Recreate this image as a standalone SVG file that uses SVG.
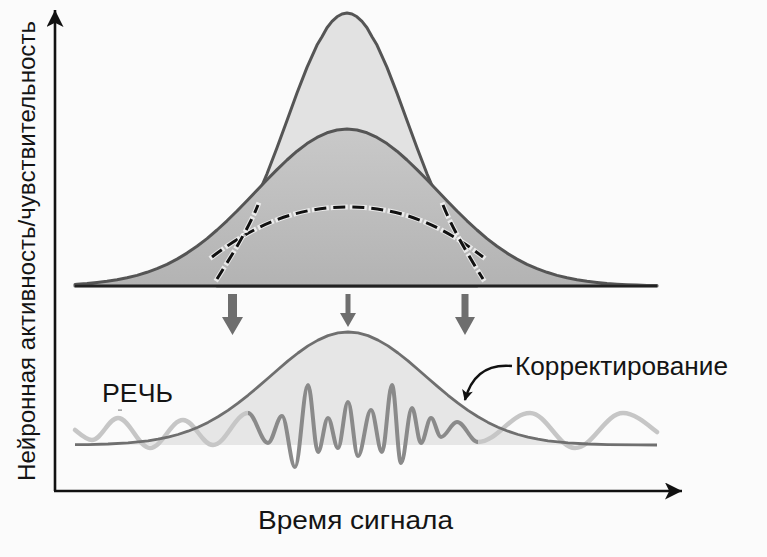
<svg xmlns="http://www.w3.org/2000/svg" width="767" height="557" viewBox="0 0 767 557">
<style>
.lbl{font-family:"Liberation Sans",Arial,sans-serif;fill:#141414}
.curveStroke{stroke:#555;stroke-width:3;stroke-linejoin:round}
.dashHalo{fill:none;stroke:#fff;stroke-width:5;stroke-dasharray:12 7;stroke-linecap:square;opacity:.7}
.dash{fill:none;stroke:#111;stroke-width:3;stroke-dasharray:12 7}
.garrow{fill:#6e6e6e}
.axis{stroke:#111;stroke-width:2.6;fill:none}
</style>
<defs>
<marker id="axisHead" viewBox="0 0 16 16" markerUnits="userSpaceOnUse" markerWidth="17" markerHeight="17" refX="16" refY="8" orient="auto">
<path d="M0,0 L16,8 L0,16 L4,8 Z" fill="#111"/>
</marker>
<marker id="pointer" viewBox="0 0 10 10" markerUnits="userSpaceOnUse" markerWidth="12" markerHeight="11" refX="9" refY="5" orient="auto">
<path d="M0,0 L10,5 L0,10 L2.5,5 Z" fill="#111"/>
</marker>
<linearGradient id="broadFill" x1="0" y1="0" x2="0" y2="1">
<stop offset="0" stop-color="#c9c9c9"/>
<stop offset="1" stop-color="#b3b3b3"/>
</linearGradient>
</defs>
<rect width="767" height="557" fill="#fbfbfb"/>

<g id="narrow-curve">
<path class="curveStroke" fill="#e2e2e2" stroke-width="2.6" d="M217,286 L217,259.9 L227,249.1 L237,235.1 L247,217.9 L257,197.4 L267,173.8 L277,147.8 L287,120.4 L297,93.1 L307,67.4 L317,45.1 L322,36.7 L327,27.7 L332,21.4 L337,16.8 L342,14 L347,13 L352,14 L357,16.8 L362,21.4 L367,27.7 L372,36.7 L377,45.1 L387,67.4 L397,93.1 L407,120.4 L417,147.8 L427,173.8 L437,197.4 L447,217.9 L457,235.1 L467,249.1 L477,259.9 L477,286 Z"/>
</g>

<g id="broad-curve">
<path class="curveStroke" fill="url(#broadFill)" d="M75,286 L75,284.4 L77,284.2 L87,283.5 L97,282.5 L107,281.3 L117,279.8 L127,277.8 L137,275.4 L147,272.3 L157,268.7 L167,264.3 L177,259.1 L187,253.1 L197,246.2 L207,238.6 L217,230 L227,220.8 L237,211 L247,200.7 L257,190.2 L267,179.8 L277,169.6 L287,160 L297,151.2 L307,143.6 L317,137.4 L327,132.8 L337,130 L347,129 L357,130 L367,132.8 L377,137.4 L387,143.6 L397,151.2 L407,160 L417,169.6 L427,179.8 L437,190.2 L447,200.7 L457,211 L467,220.8 L477,230 L487,238.6 L497,246.2 L507,253.1 L517,259.1 L527,264.3 L537,268.7 L547,272.3 L557,275.4 L567,277.8 L577,279.8 L587,281.3 L597,282.5 L607,283.5 L617,284.2 L627,284.7 L637,285.1 L647,285.4 L657,285.6 L657,286 Z"/>
</g>

<g id="dashed-curves">
<path class="dashHalo" d="M212,257 C258,222 300,207 348,207 C396,207 438,222 483,257"/>
<path class="dash" d="M212,257 C258,222 300,207 348,207 C396,207 438,222 483,257"/>
<path class="dashHalo" d="M217,279 C230,258 248,230 258,205"/>
<path class="dash" d="M217,279 C230,258 248,230 258,205"/>
<path class="dashHalo" d="M443,205 C453,230 470,258 483,279"/>
<path class="dash" d="M443,205 C453,230 470,258 483,279"/>
</g>

<g id="top-baseline">
<line x1="75" y1="286" x2="657" y2="286" stroke="#222" stroke-width="2.6"/>
</g>

<g id="envelope-fill">
<path fill="#e6e6e6" d="M75,445 L75,444.7 L88,444.6 L108,444 L128,442.9 L148,440.8 L158,439.2 L168,437.1 L178,434.5 L188,431.2 L198,427.2 L208,422.4 L218,416.8 L228,410.4 L238,403.2 L248,395.3 L258,386.9 L268,378.2 L278,369.5 L288,360.9 L298,353 L308,345.9 L318,340.1 L328,335.6 L338,332.9 L348,332 L358,332.9 L368,335.6 L378,340.1 L388,345.9 L398,353 L408,360.9 L418,369.5 L428,378.2 L438,386.9 L448,395.3 L458,403.2 L468,410.4 L478,416.8 L488,422.4 L498,427.2 L508,431.2 L518,434.5 L528,437.1 L538,439.2 L548,440.8 L568,442.9 L588,444 L608,444.6 L638,444.9 L657,445 Z"/>
</g>

<g id="speech-wave">
<path fill="none" stroke="#c6c6c6" stroke-width="4.5" stroke-linecap="round" d="M75,430 C80,434 86,440 92,440 C101.5,440 108.5,418 118,418 C129.6,418 138.4,448 150,448 C162,448 171,420 183,420 C194,420 202,445 213,445 C225.7,445 235.3,413 248,413"/>
<path fill="none" stroke="#c6c6c6" stroke-width="4.5" stroke-linecap="round" d="M478,442 C497,442 511,413 530,413 C546.4,413 558.6,448 575,448 C592.5,448 605.5,413 623,413 C635,413 648,425 657,432"/>
<path fill="none" stroke="#8a8a8a" stroke-width="4" stroke-linejoin="round" d="M248,413 C255.3,413 260.7,443 268,443 C273,443 277,416 282,416 C286.7,416 290.3,467 295,467 C299.7,467 303.3,385 308,385 C311.6,385 314.4,452 318,452 C321.6,452 324.4,418 328,418 C331.6,418 334.4,448 338,448 C341.6,448 344.4,402 348,402 C351.6,402 354.4,456 358,456 C362.7,456 366.3,410 371,410 C375,410 378,452 382,452 C385.6,452 388.4,385 392,385 C395.3,385 397.7,463 401,463 C405,463 408,408 412,408 C415.3,408 417.7,443 421,443 C424.6,443 427.4,418 431,418 C434.6,418 437.4,437 441,437 C446.8,437 451.2,422 457,422 C464.6,422 470.4,442 478,442"/>
</g>

<g id="envelope">
<path fill="none" stroke="#6f6f6f" stroke-width="2.8" stroke-linejoin="round" d="M75,444.7 L88,444.6 L108,444 L128,442.9 L148,440.8 L158,439.2 L168,437.1 L178,434.5 L188,431.2 L198,427.2 L208,422.4 L218,416.8 L228,410.4 L238,403.2 L248,395.3 L258,386.9 L268,378.2 L278,369.5 L288,360.9 L298,353 L308,345.9 L318,340.1 L328,335.6 L338,332.9 L348,332 L358,332.9 L368,335.6 L378,340.1 L388,345.9 L398,353 L408,360.9 L418,369.5 L428,378.2 L438,386.9 L448,395.3 L458,403.2 L468,410.4 L478,416.8 L488,422.4 L498,427.2 L508,431.2 L518,434.5 L528,437.1 L538,439.2 L548,440.8 L568,442.9 L588,444 L608,444.6 L638,444.9 L657,445"/>
</g>

<g id="connectors">
<path class="garrow" d="M228,294 H237 V317 H243 L232.5,335 L222,317 H228 Z"/>
<path class="garrow" d="M345.5,294 H350.5 V313 H356 L348,327 L340,313 H345.5 Z"/>
<path class="garrow" d="M461.5,294 H468.5 V317 H475 L465,335 L455,317 H461.5 Z"/>
<path fill="none" stroke="#111" stroke-width="2.4" marker-end="url(#pointer)" d="M512,366 C490,364 472,373 465,400"/>
</g>

<g id="axes">
<line class="axis" x1="55" y1="491" x2="55" y2="10" marker-end="url(#axisHead)"/>
<line class="axis" x1="54" y1="491" x2="682" y2="491" marker-end="url(#axisHead)"/>
</g>

<g id="labels">
<text class="lbl" transform="translate(35,481) rotate(-90)" font-size="24.5" textLength="460" lengthAdjust="spacingAndGlyphs">Нейронная активность/чувствительность</text>
<text class="lbl" x="258" y="529" font-size="25" textLength="195" lengthAdjust="spacingAndGlyphs">Время сигнала</text>
<text class="lbl" x="102" y="402" font-size="25" textLength="71" lengthAdjust="spacingAndGlyphs">РЕЧЬ</text>
<rect x="118" y="409.5" width="4" height="1.2" fill="#888"/>
<text class="lbl" x="515" y="375" font-size="26" textLength="213" lengthAdjust="spacingAndGlyphs">Корректирование</text>
</g>
</svg>
